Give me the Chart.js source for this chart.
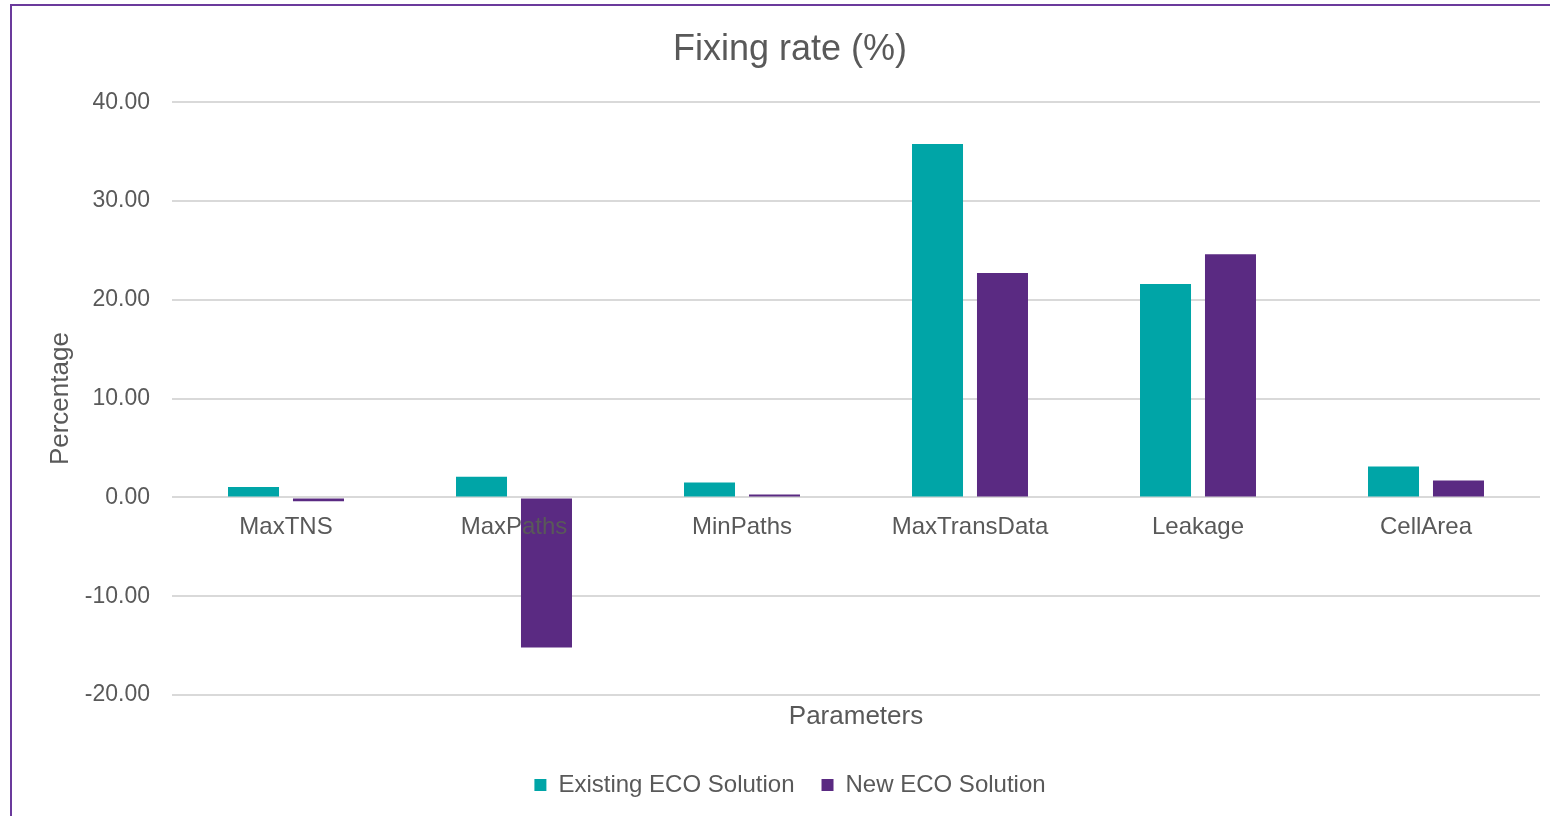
<!DOCTYPE html>
<html>
<head>
<meta charset="utf-8">
<script src="https://cdn.jsdelivr.net/npm/chart.js@4/dist/chart.umd.min.js"></script>
<style>
  html, body { margin: 0; padding: 0; background: #ffffff; overflow: hidden; }
  #wrap { position: relative; width: 1550px; height: 816px; }
  #frame { position: absolute; left: 10px; top: 4px; width: 1600px; height: 900px;
           border: 2px solid #6b3a9c; pointer-events: none; box-sizing: border-box; }
  canvas { position: absolute; left: 0; top: 0; }
</style>
</head>
<body>
<div id="wrap">
  <canvas id="c" width="1550" height="816"></canvas>
  <div id="frame"></div>
</div>
<script>
const categories = ['MaxTNS', 'MaxPaths', 'MinPaths', 'MaxTransData', 'Leakage', 'CellArea'];
const existingEco = [1.04, 2.08, 1.52, 35.78, 21.6, 3.14];
const newEco = [-0.40, -15.2, 0.30, 22.70, 24.6, 1.72];
const seriesNames = ['Existing ECO Solution', 'New ECO Solution'];
const yTicks = { min: -20, max: 40, step: 10 };

const textColor = '#595959';
const font = 'Liberation Sans, Arial, sans-serif';

new Chart(document.getElementById('c'), {
  type: 'bar',
  data: {
    labels: categories,
    datasets: [
      { label: seriesNames[0], data: existingEco, backgroundColor: '#00a5a7',
        categoryPercentage: 0.57, barPercentage: 0.785, xAxisID: 'x' },
      { label: seriesNames[1], data: newEco, backgroundColor: '#5a2a82',
        categoryPercentage: 0.57, barPercentage: 0.785, xAxisID: 'x' }
    ]
  },
  options: {
    responsive: false,
    animation: false,
    layout: { padding: { left: 40, right: 10, top: 0, bottom: 9 } },
    plugins: {
      title: {
        display: true, text: 'Fixing rate (%)', color: textColor,
        font: { family: font, size: 36, weight: 'normal' },
        padding: { top: 28, bottom: 31 }
      },
      legend: {
        position: 'bottom',
        labels: {
          color: textColor, boxWidth: 12, boxHeight: 12, padding: 27,
          font: { family: font, size: 24 }
        }
      },
      tooltip: { enabled: false }
    },
    scales: {
      x: {
        type: 'category',
        position: { y: 0 },
        grid: { display: false },
        border: { display: false },
        ticks: { z: 1, color: textColor, padding: 8, maxRotation: 0, autoSkip: false,
                 font: { family: font, size: 24 } },
        afterFit: s => { s.height = 0; }
      },
      x2: {
        type: 'category',
        position: 'bottom',
        labels: categories,
        grid: { display: false },
        border: { display: false },
        ticks: { display: false },
        title: { display: true, text: 'Parameters', color: textColor,
                 font: { family: font, size: 26 }, padding: { top: 5, bottom: 14 } },
        afterFit: s => { s.height = 51; }
      },
      y: {
        min: yTicks.min, max: yTicks.max,
        grid: { color: '#d9d9d9', lineWidth: 2, drawTicks: false },
        border: { display: false },
        ticks: { stepSize: yTicks.step, color: textColor, padding: 22,
                 font: { family: font, size: 23 },
                 callback: v => Number(v).toFixed(2) },
        title: { display: true, text: 'Percentage', color: textColor,
                 font: { family: font, size: 26 }, padding: { top: 5, bottom: 0 } },
        afterFit: s => { s.width = 132; }
      }
    }
  }
});
</script>
</body>
</html>
